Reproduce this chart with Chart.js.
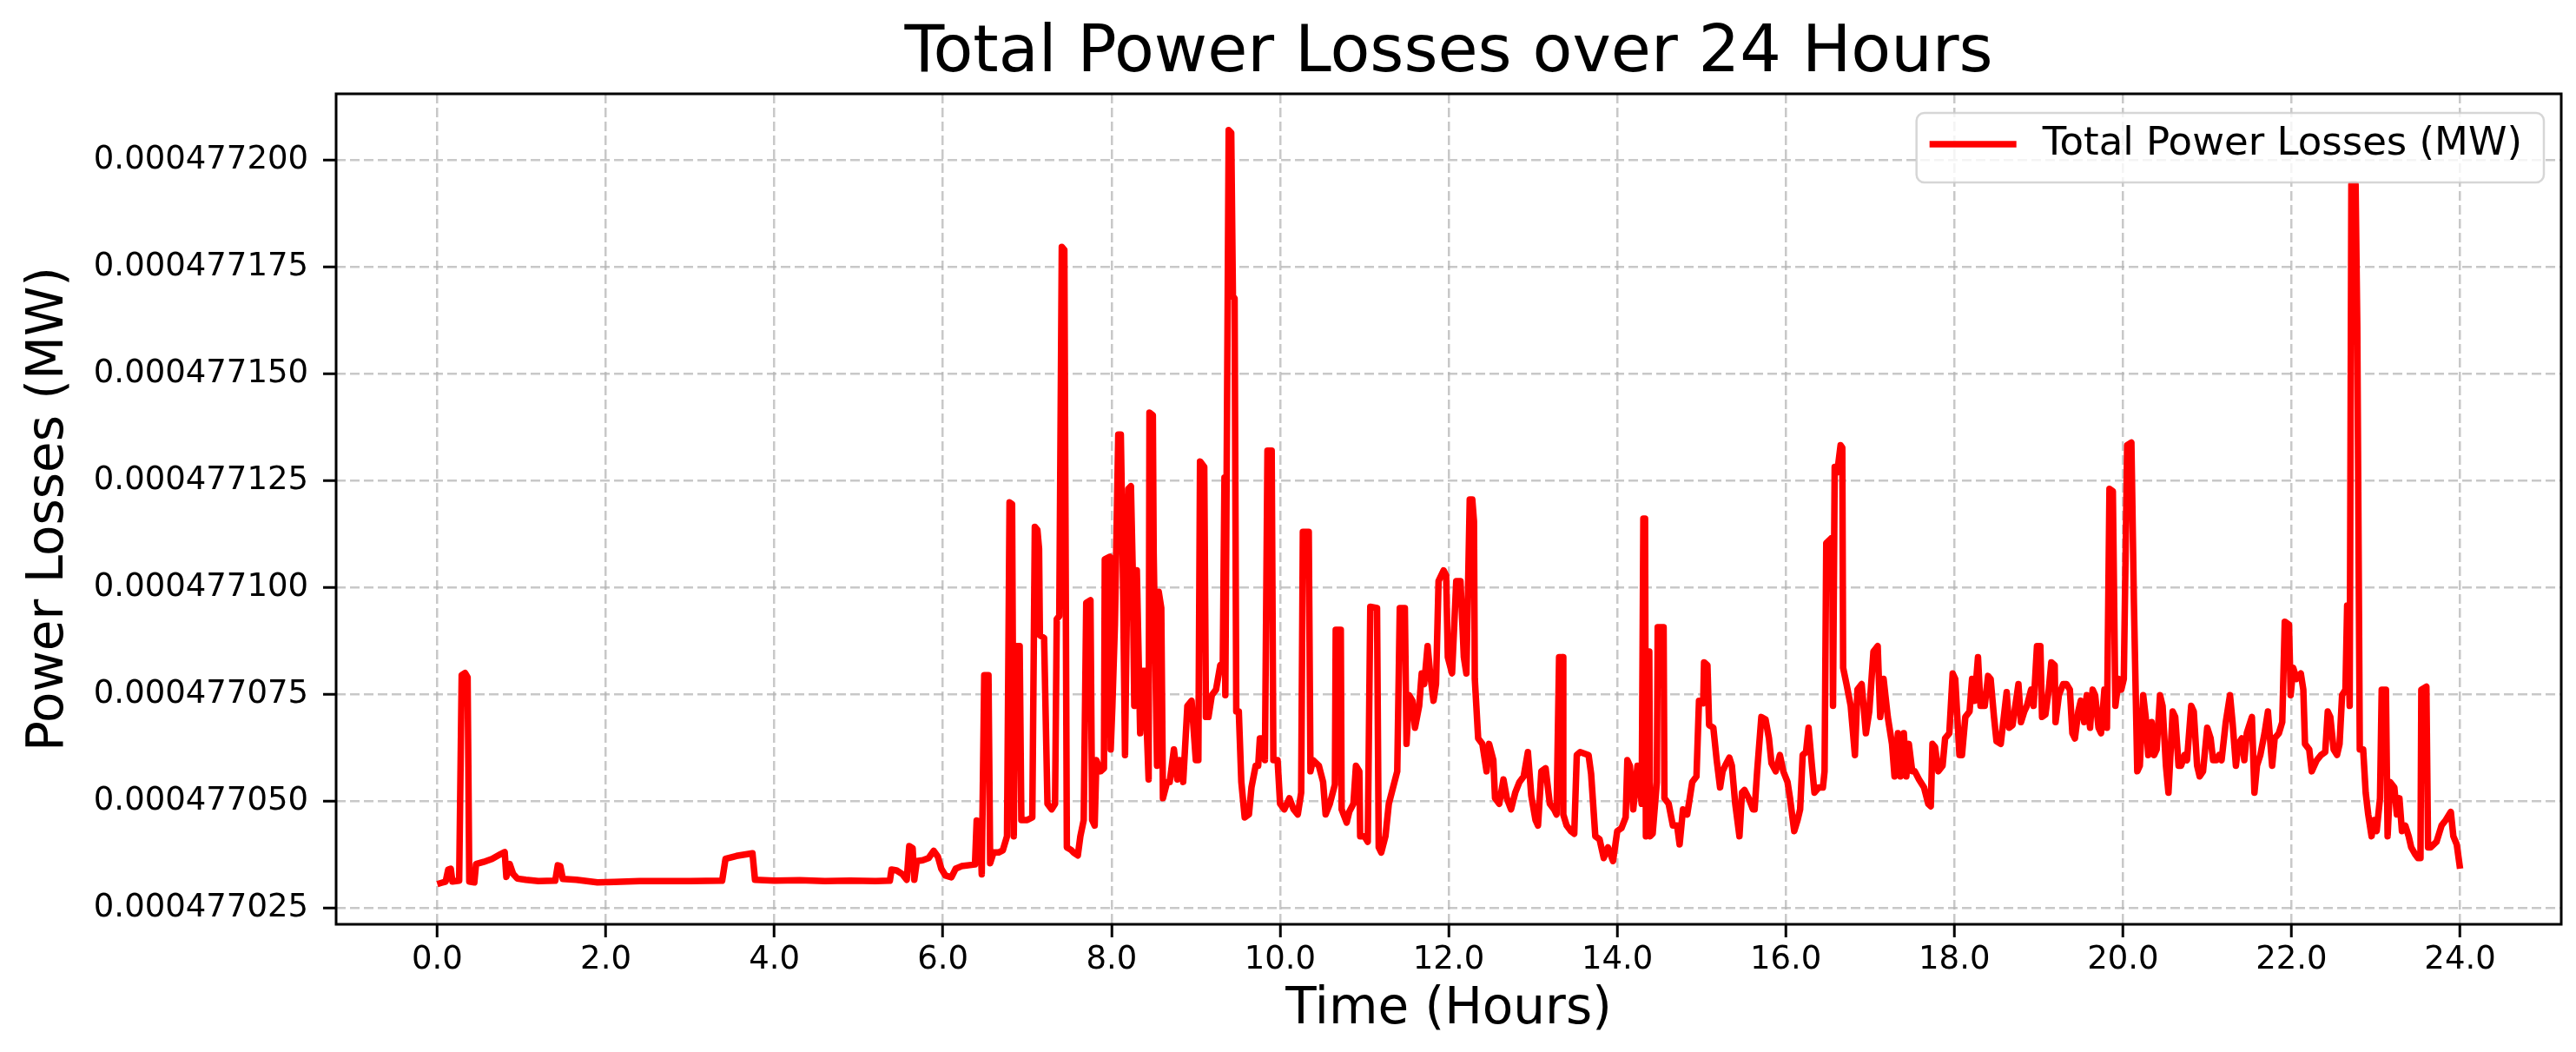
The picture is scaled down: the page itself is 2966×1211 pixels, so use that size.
<!DOCTYPE html>
<html>
<head>
<meta charset="utf-8">
<script src="https://cdn.jsdelivr.net/npm/chart.js@4.4.1/dist/chart.umd.min.js"></script>
<style>
  html, body { margin: 0; padding: 0; background: #ffffff; overflow: hidden; }
  #wrap { width: 2966px; height: 1211px; position: relative; }
</style>
</head>
<body>
<div id="wrap"><canvas id="lossChart"></canvas></div>
<script>
const chartTitle = "Total Power Losses over 24 Hours";
const seriesLabel = "Total Power Losses (MW)";
const xAxisTitle = "Time (Hours)";
const yAxisTitle = "Power Losses (MW)";

const xTicks = [0, 2, 4, 6, 8, 10, 12, 14, 16, 18, 20, 22, 24];
const yTicks = [0.000477025, 0.00047705, 0.000477075, 0.0004771, 0.000477125, 0.00047715, 0.000477175, 0.0004772];

// time of each sample, hours
const hours = [
  0.00, 0.05, 0.10, 0.13, 0.16, 0.18, 0.26, 0.29, 0.33, 0.36, 0.38, 0.44, 0.46, 0.55, 0.65, 0.75, 0.80, 0.82, 0.86, 0.90,
  0.95, 1.05, 1.20, 1.40, 1.43, 1.46, 1.49, 1.65, 1.90, 2.10, 2.40, 2.70, 3.00, 3.38, 3.42, 3.55, 3.74, 3.77, 4.00, 4.30,
  4.60, 4.90, 5.20, 5.37, 5.39, 5.45, 5.52, 5.57, 5.60, 5.64, 5.66, 5.69, 5.76, 5.83, 5.89, 5.94, 5.98, 6.03, 6.10, 6.15,
  6.22, 6.38, 6.40, 6.44, 6.46, 6.49, 6.54, 6.56, 6.60, 6.66, 6.71, 6.76, 6.79, 6.82, 6.84, 6.86, 6.91, 6.93, 7.00, 7.06,
  7.09, 7.12, 7.14, 7.15, 7.20, 7.24, 7.29, 7.33, 7.35, 7.38, 7.41, 7.44, 7.47, 7.52, 7.55, 7.60, 7.63, 7.67, 7.70, 7.75,
  7.77, 7.80, 7.82, 7.87, 7.91, 7.92, 7.98, 7.99, 8.01, 8.04, 8.08, 8.11, 8.13, 8.16, 8.20, 8.23, 8.25, 8.27, 8.30, 8.34,
  8.37, 8.40, 8.42, 8.44, 8.45, 8.49, 8.50, 8.54, 8.56, 8.59, 8.61, 8.66, 8.69, 8.74, 8.78, 8.81, 8.85, 8.90, 8.95, 9.00,
  9.03, 9.05, 9.10, 9.12, 9.15, 9.19, 9.24, 9.29, 9.32, 9.34, 9.35, 9.39, 9.42, 9.44, 9.46, 9.48, 9.51, 9.54, 9.58, 9.63,
  9.66, 9.71, 9.74, 9.76, 9.80, 9.82, 9.85, 9.90, 9.92, 9.97, 10.00, 10.05, 10.11, 10.16, 10.21, 10.25, 10.27, 10.34, 10.36, 10.39,
  10.46, 10.51, 10.54, 10.59, 10.65, 10.66, 10.72, 10.73, 10.79, 10.82, 10.87, 10.90, 10.94, 10.95, 11.00, 11.04, 11.07, 11.15, 11.17, 11.20,
  11.25, 11.29, 11.34, 11.39, 11.42, 11.48, 11.50, 11.53, 11.57, 11.60, 11.65, 11.68, 11.71, 11.75, 11.78, 11.82, 11.85, 11.88, 11.94, 11.97,
  11.99, 12.04, 12.09, 12.14, 12.18, 12.21, 12.25, 12.28, 12.30, 12.31, 12.35, 12.40, 12.45, 12.48, 12.53, 12.55, 12.60, 12.65, 12.69, 12.74,
  12.79, 12.84, 12.89, 12.94, 12.98, 13.03, 13.06, 13.10, 13.15, 13.20, 13.25, 13.28, 13.31, 13.35, 13.36, 13.40, 13.45, 13.49, 13.52, 13.56,
  13.66, 13.69, 13.74, 13.79, 13.84, 13.89, 13.95, 14.00, 14.05, 14.10, 14.12, 14.15, 14.19, 14.24, 14.29, 14.31, 14.33, 14.34, 14.38, 14.39,
  14.42, 14.47, 14.48, 14.55, 14.56, 14.61, 14.66, 14.71, 14.74, 14.78, 14.83, 14.89, 14.94, 14.97, 15.02, 15.03, 15.07, 15.09, 15.14, 15.18,
  15.22, 15.25, 15.28, 15.33, 15.36, 15.40, 15.45, 15.48, 15.51, 15.56, 15.61, 15.63, 15.66, 15.71, 15.76, 15.80, 15.83, 15.88, 15.93, 15.97,
  16.02, 16.05, 16.10, 16.14, 16.17, 16.20, 16.24, 16.27, 16.31, 16.34, 16.39, 16.44, 16.46, 16.48, 16.55, 16.56, 16.58, 16.61, 16.65, 16.67,
  16.68, 16.72, 16.77, 16.82, 16.85, 16.90, 16.95, 16.99, 17.04, 17.09, 17.12, 17.16, 17.21, 17.26, 17.29, 17.33, 17.36, 17.40, 17.43, 17.46,
  17.50, 17.53, 17.58, 17.64, 17.69, 17.72, 17.74, 17.77, 17.81, 17.86, 17.89, 17.94, 17.98, 18.01, 18.06, 18.09, 18.13, 18.18, 18.21, 18.24,
  18.28, 18.31, 18.36, 18.40, 18.43, 18.47, 18.50, 18.55, 18.62, 18.65, 18.69, 18.76, 18.79, 18.83, 18.86, 18.91, 18.94, 18.98, 19.02, 19.04,
  19.08, 19.12, 19.15, 19.19, 19.20, 19.24, 19.29, 19.33, 19.37, 19.40, 19.43, 19.47, 19.50, 19.54, 19.57, 19.61, 19.64, 19.67, 19.71, 19.74,
  19.78, 19.81, 19.84, 19.88, 19.91, 19.95, 19.98, 20.01, 20.05, 20.10, 20.13, 20.17, 20.20, 20.24, 20.27, 20.30, 20.34, 20.37, 20.40, 20.44,
  20.47, 20.51, 20.54, 20.59, 20.62, 20.66, 20.69, 20.73, 20.76, 20.81, 20.84, 20.88, 20.91, 20.95, 21.00, 21.04, 21.07, 21.11, 21.14, 21.17,
  21.22, 21.27, 21.30, 21.34, 21.37, 21.41, 21.44, 21.47, 21.53, 21.56, 21.59, 21.63, 21.68, 21.72, 21.77, 21.80, 21.85, 21.89, 21.92, 21.97,
  21.99, 22.02, 22.06, 22.11, 22.14, 22.16, 22.21, 22.24, 22.30, 22.35, 22.40, 22.43, 22.46, 22.50, 22.54, 22.57, 22.60, 22.64, 22.66, 22.69,
  22.71, 22.76, 22.78, 22.81, 22.85, 22.88, 22.91, 22.95, 22.98, 23.01, 23.05, 23.07, 23.12, 23.14, 23.17, 23.22, 23.25, 23.28, 23.31, 23.35,
  23.39, 23.42, 23.47, 23.50, 23.53, 23.54, 23.60, 23.62, 23.65, 23.72, 23.78, 23.83, 23.89, 23.92, 23.96, 24.00
];

// total power losses at each sample, MW
const lossesMW = [
  0.0004770306, 0.0004770309, 0.0004770312, 0.0004770340, 0.0004770342, 0.0004770312, 0.0004770314, 0.0004770795, 0.0004770800, 0.0004770790,
  0.0004770312, 0.0004770310, 0.0004770353, 0.0004770358, 0.0004770365, 0.0004770376, 0.0004770381, 0.0004770323, 0.0004770353, 0.0004770330,
  0.0004770319, 0.0004770316, 0.0004770313, 0.0004770314, 0.0004770350, 0.0004770348, 0.0004770318, 0.0004770316, 0.0004770310, 0.0004770311,
  0.0004770313, 0.0004770313, 0.0004770313, 0.0004770314, 0.0004770365, 0.0004770372, 0.0004770378, 0.0004770316, 0.0004770314, 0.0004770315,
  0.0004770313, 0.0004770314, 0.0004770313, 0.0004770314, 0.0004770340, 0.0004770338, 0.0004770329, 0.0004770316, 0.0004770395, 0.0004770390,
  0.0004770316, 0.0004770360, 0.0004770362, 0.0004770367, 0.0004770384, 0.0004770370, 0.0004770342, 0.0004770326, 0.0004770322, 0.0004770342,
  0.0004770348, 0.0004770352, 0.0004770455, 0.0004770450, 0.0004770329, 0.0004770795, 0.0004770795, 0.0004770355, 0.0004770380, 0.0004770380,
  0.0004770385, 0.0004770418, 0.0004771199, 0.0004771195, 0.0004770418, 0.0004770863, 0.0004770863, 0.0004770456, 0.0004770456, 0.0004770462,
  0.0004771142, 0.0004771135, 0.0004771091, 0.0004770888, 0.0004770882, 0.0004770494, 0.0004770481, 0.0004770494, 0.0004770926, 0.0004770933,
  0.0004771797, 0.0004771790, 0.0004770392, 0.0004770386, 0.0004770380, 0.0004770373, 0.0004770418, 0.0004770456, 0.0004770964, 0.0004770970,
  0.0004770456, 0.0004770443, 0.0004770596, 0.0004770570, 0.0004770577, 0.0004771066, 0.0004771072, 0.0004770621, 0.0004770723, 0.0004770913,
  0.0004771358, 0.0004771358, 0.0004771117, 0.0004770608, 0.0004771231, 0.0004771237, 0.0004771053, 0.0004770723, 0.0004771040, 0.0004770659,
  0.0004770805, 0.0004770805, 0.0004770659, 0.0004770551, 0.0004771409, 0.0004771403, 0.0004771079, 0.0004770583, 0.0004770990, 0.0004770952,
  0.0004770507, 0.0004770545, 0.0004770545, 0.0004770621, 0.0004770551, 0.0004770596, 0.0004770545, 0.0004770723, 0.0004770735, 0.0004770596,
  0.0004770596, 0.0004771295, 0.0004771282, 0.0004770697, 0.0004770697, 0.0004770748, 0.0004770761, 0.0004770818, 0.0004770825, 0.0004771257,
  0.0004770748, 0.0004772070, 0.0004772064, 0.0004771682, 0.0004771676, 0.0004770710, 0.0004770710, 0.0004770545, 0.0004770462, 0.0004770469,
  0.0004770532, 0.0004770583, 0.0004770583, 0.0004770647, 0.0004770647, 0.0004770596, 0.0004771320, 0.0004771320, 0.0004770596, 0.0004770596,
  0.0004770494, 0.0004770481, 0.0004770507, 0.0004770481, 0.0004770469, 0.0004770520, 0.0004771130, 0.0004771130, 0.0004770570, 0.0004770596,
  0.0004770583, 0.0004770545, 0.0004770469, 0.0004770494, 0.0004770539, 0.0004770901, 0.0004770901, 0.0004770481, 0.0004770450, 0.0004770475,
  0.0004770494, 0.0004770583, 0.0004770570, 0.0004770418, 0.0004770418, 0.0004770405, 0.0004770955, 0.0004770952, 0.0004770392, 0.0004770380,
  0.0004770418, 0.0004770494, 0.0004770532, 0.0004770570, 0.0004770952, 0.0004770952, 0.0004770634, 0.0004770748, 0.0004770735, 0.0004770672,
  0.0004770723, 0.0004770799, 0.0004770774, 0.0004770863, 0.0004770799, 0.0004770735, 0.0004770774, 0.0004771015, 0.0004771040, 0.0004771028,
  0.0004770837, 0.0004770799, 0.0004771015, 0.0004771015, 0.0004770837, 0.0004770799, 0.0004771206, 0.0004771206, 0.0004771155, 0.0004770786,
  0.0004770647, 0.0004770634, 0.0004770570, 0.0004770634, 0.0004770596, 0.0004770507, 0.0004770494, 0.0004770551, 0.0004770507, 0.0004770481,
  0.0004770520, 0.0004770545, 0.0004770558, 0.0004770615, 0.0004770513, 0.0004770456, 0.0004770443, 0.0004770570, 0.0004770577, 0.0004770494,
  0.0004770481, 0.0004770469, 0.0004770837, 0.0004770837, 0.0004770469, 0.0004770443, 0.0004770430, 0.0004770424, 0.0004770608, 0.0004770615,
  0.0004770608, 0.0004770564, 0.0004770418, 0.0004770411, 0.0004770367, 0.0004770392, 0.0004770360, 0.0004770430, 0.0004770437, 0.0004770462,
  0.0004770596, 0.0004770583, 0.0004770481, 0.0004770583, 0.0004770494, 0.0004771161, 0.0004771161, 0.0004770418, 0.0004770850, 0.0004770418,
  0.0004770424, 0.0004770545, 0.0004770907, 0.0004770907, 0.0004770507, 0.0004770494, 0.0004770443, 0.0004770443, 0.0004770399, 0.0004770481,
  0.0004770469, 0.0004770545, 0.0004770558, 0.0004770735, 0.0004770729, 0.0004770825, 0.0004770818, 0.0004770678, 0.0004770672, 0.0004770596,
  0.0004770532, 0.0004770570, 0.0004770583, 0.0004770602, 0.0004770583, 0.0004770494, 0.0004770418, 0.0004770520, 0.0004770526, 0.0004770507,
  0.0004770481, 0.0004770481, 0.0004770570, 0.0004770697, 0.0004770691, 0.0004770647, 0.0004770589, 0.0004770570, 0.0004770608, 0.0004770570,
  0.0004770545, 0.0004770507, 0.0004770430, 0.0004770456, 0.0004770481, 0.0004770608, 0.0004770615, 0.0004770672, 0.0004770583, 0.0004770520,
  0.0004770532, 0.0004770532, 0.0004770570, 0.0004771104, 0.0004771117, 0.0004770723, 0.0004771282, 0.0004771269, 0.0004771333, 0.0004771327,
  0.0004770812, 0.0004770774, 0.0004770723, 0.0004770608, 0.0004770761, 0.0004770774, 0.0004770659, 0.0004770710, 0.0004770850, 0.0004770863,
  0.0004770697, 0.0004770786, 0.0004770697, 0.0004770634, 0.0004770558, 0.0004770659, 0.0004770558, 0.0004770659, 0.0004770558, 0.0004770634,
  0.0004770570, 0.0004770570, 0.0004770551, 0.0004770532, 0.0004770494, 0.0004770488, 0.0004770634, 0.0004770627, 0.0004770570, 0.0004770583,
  0.0004770647, 0.0004770659, 0.0004770799, 0.0004770786, 0.0004770608, 0.0004770608, 0.0004770697, 0.0004770710, 0.0004770786, 0.0004770735,
  0.0004770837, 0.0004770723, 0.0004770723, 0.0004770793, 0.0004770786, 0.0004770697, 0.0004770640, 0.0004770634, 0.0004770755, 0.0004770672,
  0.0004770678, 0.0004770774, 0.0004770685, 0.0004770710, 0.0004770723, 0.0004770761, 0.0004770723, 0.0004770863, 0.0004770863, 0.0004770697,
  0.0004770703, 0.0004770761, 0.0004770825, 0.0004770818, 0.0004770685, 0.0004770748, 0.0004770774, 0.0004770774, 0.0004770761, 0.0004770659,
  0.0004770647, 0.0004770710, 0.0004770735, 0.0004770685, 0.0004770748, 0.0004770672, 0.0004770761, 0.0004770748, 0.0004770672, 0.0004770659,
  0.0004770761, 0.0004770672, 0.0004771231, 0.0004771225, 0.0004770723, 0.0004770786, 0.0004770761, 0.0004770786, 0.0004771333, 0.0004771339,
  0.0004770964, 0.0004770570, 0.0004770583, 0.0004770748, 0.0004770697, 0.0004770608, 0.0004770685, 0.0004770608, 0.0004770621, 0.0004770748,
  0.0004770723, 0.0004770583, 0.0004770520, 0.0004770710, 0.0004770697, 0.0004770583, 0.0004770583, 0.0004770608, 0.0004770596, 0.0004770723,
  0.0004770710, 0.0004770583, 0.0004770558, 0.0004770570, 0.0004770672, 0.0004770647, 0.0004770596, 0.0004770596, 0.0004770608, 0.0004770596,
  0.0004770685, 0.0004770748, 0.0004770685, 0.0004770583, 0.0004770634, 0.0004770647, 0.0004770596, 0.0004770660, 0.0004770697, 0.0004770520,
  0.0004770583, 0.0004770608, 0.0004770659, 0.0004770710, 0.0004770583, 0.0004770647, 0.0004770659, 0.0004770685, 0.0004770920, 0.0004770913,
  0.0004770748, 0.0004770812, 0.0004770786, 0.0004770799, 0.0004770761, 0.0004770634, 0.0004770621, 0.0004770570, 0.0004770596, 0.0004770608,
  0.0004770615, 0.0004770710, 0.0004770697, 0.0004770621, 0.0004770608, 0.0004770634, 0.0004770748, 0.0004770761, 0.0004770958, 0.0004770723,
  0.0004771943, 0.0004771943, 0.0004771612, 0.0004770621, 0.0004770621, 0.0004770520, 0.0004770469, 0.0004770418, 0.0004770456, 0.0004770430,
  0.0004770507, 0.0004770761, 0.0004770761, 0.0004770418, 0.0004770545, 0.0004770532, 0.0004770469, 0.0004770507, 0.0004770430, 0.0004770443,
  0.0004770418, 0.0004770392, 0.0004770375, 0.0004770367, 0.0004770367, 0.0004770761, 0.0004770768, 0.0004770392, 0.0004770392, 0.0004770405,
  0.0004770443, 0.0004770456, 0.0004770475, 0.0004770418, 0.0004770399, 0.0004770342
];

const yMin = 0.0004770212;
const yMax = 0.0004772155;
const xMin = -1.2;
const xMax = 25.2;

const fontFamily = "'DejaVu Sans', sans-serif";
const gridColor = "rgba(176, 176, 176, 0.7)";

const points = hours.map((h, i) => ({ x: h, y: lossesMW[i] }));

// matplotlib style frame around the plot area
const frameBox = {
  id: "frameBox",
  afterDatasetsDraw(chart) {
    const { ctx, chartArea } = chart;
    ctx.save();
    ctx.strokeStyle = "#000000";
    ctx.lineWidth = 3;
    ctx.strokeRect(chartArea.left, chartArea.top, chartArea.right - chartArea.left, chartArea.bottom - chartArea.top);
    ctx.restore();
  },
};

// legend box in the upper right corner of the axes
const legendBox = {
  id: "legendBox",
  afterDraw(chart) {
    const { ctx, chartArea } = chart;
    const ds = chart.data.datasets[0];
    ctx.save();
    ctx.font = `45px ${fontFamily}`;
    const textW = ctx.measureText(ds.label).width;
    const w = 15 + 100 + 30 + textW + 25;
    const h = 80;
    const x = chartArea.right - 20 - w;
    const y = chartArea.top + 22;

    ctx.beginPath();
    ctx.roundRect(x, y, w, h, 9);
    ctx.fillStyle = "rgba(255, 255, 255, 0.8)";
    ctx.fill();
    ctx.strokeStyle = "rgba(204, 204, 204, 0.8)";
    ctx.lineWidth = 2.5;
    ctx.stroke();

    ctx.beginPath();
    ctx.moveTo(x + 15, y + 36);
    ctx.lineTo(x + 115, y + 36);
    ctx.strokeStyle = ds.borderColor;
    ctx.lineWidth = 7.5;
    ctx.stroke();

    ctx.fillStyle = "#000000";
    ctx.textAlign = "left";
    ctx.textBaseline = "middle";
    ctx.fillText(ds.label, x + 145, y + 36);
    ctx.restore();
  },
};

new Chart(document.getElementById("lossChart"), {
  type: "line",
  data: {
    datasets: [
      {
        label: seriesLabel,
        data: points,
        borderColor: "#ff0000",
        backgroundColor: "#ff0000",
        borderWidth: 7.5,
        pointRadius: 0,
        tension: 0,
        borderJoinStyle: "round",
        borderCapStyle: "butt",
        fill: false,
      },
    ],
  },
  options: {
    responsive: true,
    maintainAspectRatio: false,
    animation: false,
    devicePixelRatio: 1,
    layout: { padding: { left: 0, right: 17, top: 0, bottom: 0 } },
    plugins: {
      legend: { display: false },
      tooltip: { enabled: false },
      title: {
        display: true,
        text: chartTitle,
        fullSize: false,
        color: "#000000",
        font: { family: fontFamily, size: 75, weight: "normal", lineHeight: 1.2 },
        padding: { top: 18, bottom: 0 },
      },
    },
    scales: {
      x: {
        type: "linear",
        min: xMin,
        max: xMax,
        afterBuildTicks: (scale) => {
          scale.ticks = xTicks.map((v) => ({ value: v }));
        },
        afterFit: (scale) => {
          scale.height = 147;
        },
        ticks: {
          color: "#000000",
          font: { family: fontFamily, size: 37, lineHeight: 1.2 },
          padding: 4,
          maxRotation: 0,
          autoSkip: false,
          callback: (value) => Number(value).toFixed(1),
        },
        grid: {
          color: gridColor,
          lineWidth: 2.5,
          tickLength: 15,
          tickColor: "#000000",
          tickWidth: 3,
          tickBorderDash: [],
        },
        border: { display: false, dash: [11, 5] },
        title: {
          display: true,
          text: xAxisTitle,
          color: "#000000",
          font: { family: fontFamily, size: 58, lineHeight: 1.2 },
          padding: { top: 0, bottom: 13 },
        },
      },
      y: {
        type: "linear",
        min: yMin,
        max: yMax,
        afterBuildTicks: (scale) => {
          scale.ticks = yTicks.map((v) => ({ value: v }));
        },
        afterFit: (scale) => {
          scale.width = 387;
        },
        ticks: {
          color: "#000000",
          font: { family: fontFamily, size: 37, lineHeight: 1.2 },
          padding: 17,
          callback: (value) => Number(value).toFixed(9),
        },
        grid: {
          color: gridColor,
          lineWidth: 2.5,
          tickLength: 15,
          tickColor: "#000000",
          tickWidth: 3,
          tickBorderDash: [],
        },
        border: { display: false, dash: [11, 5] },
        title: {
          display: true,
          text: yAxisTitle,
          color: "#000000",
          font: { family: fontFamily, size: 58, lineHeight: 1.2 },
          padding: { top: 22, bottom: 0 },
        },
      },
    },
  },
  plugins: [frameBox, legendBox],
});
</script>
</body>
</html>
